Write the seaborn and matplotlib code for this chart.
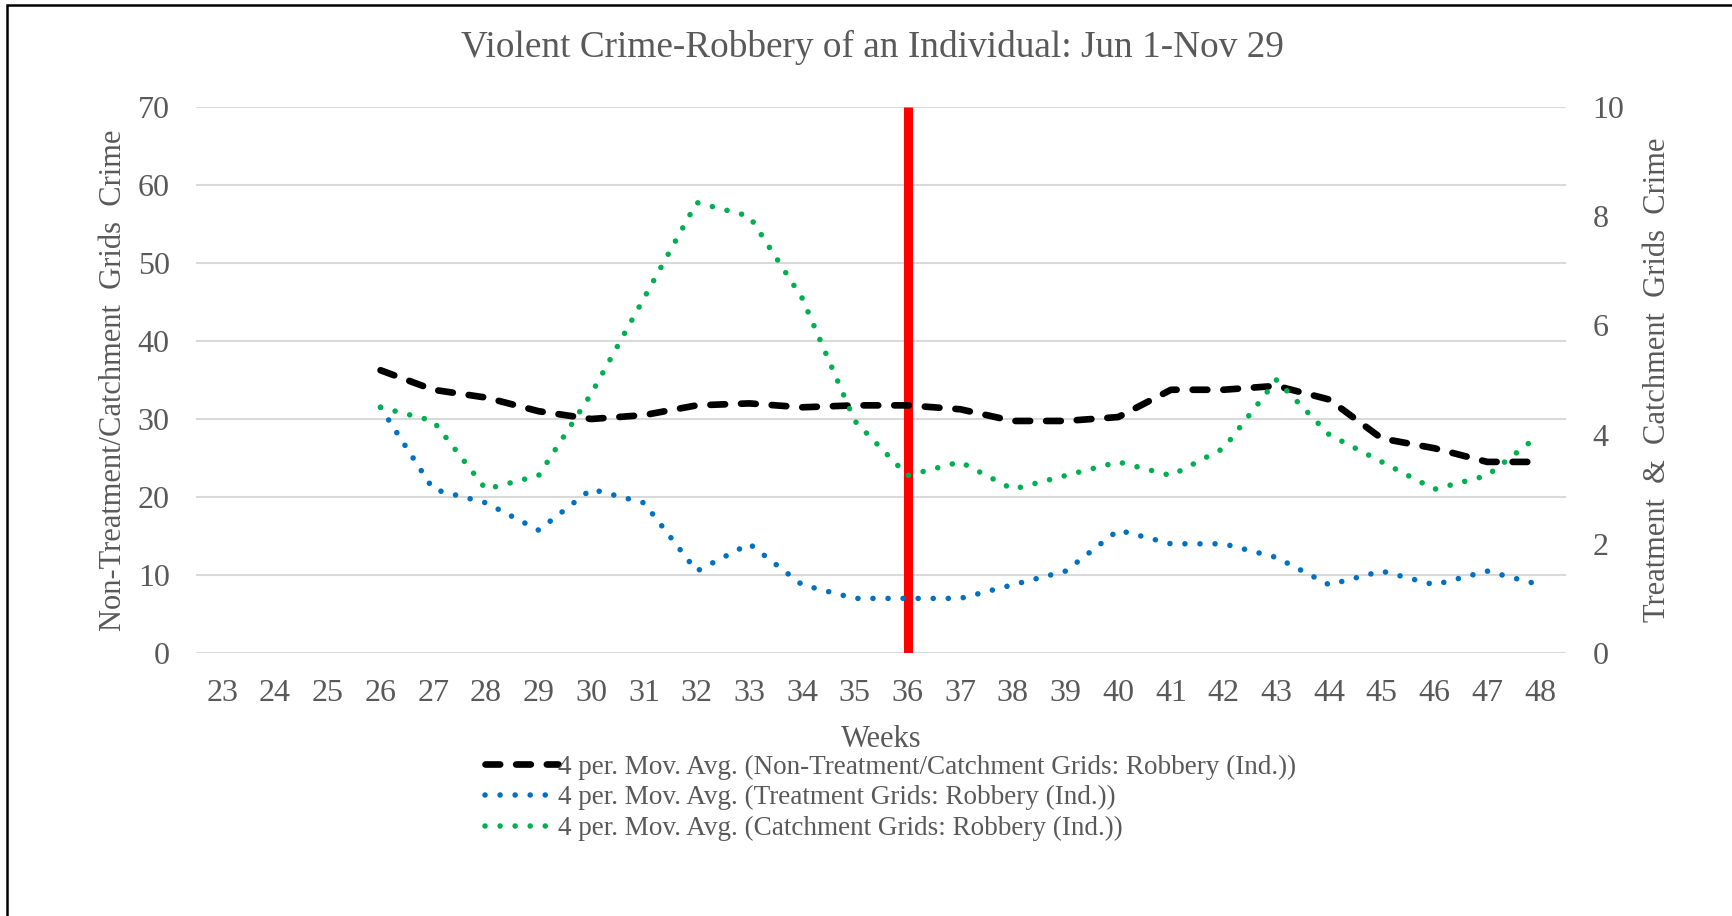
import numpy as np
import pandas as pd
import matplotlib
matplotlib.use("Agg")
import matplotlib.pyplot as plt
import seaborn as sns
from matplotlib.patches import Rectangle
from matplotlib.lines import Line2D

sns.set_style("white")
plt.rcParams['font.family'] = ['Liberation Serif', 'DejaVu Serif']

# week axis
weeks_all = list(range(23, 49))
weeks = list(range(26, 49))

# 4 per. moving averages
non_treatment = [36.25, 33.75, 32.75, 31.0, 30.0, 30.5, 31.75, 32.0, 31.5, 31.75, 31.75,
                 31.25, 29.75, 29.75, 30.25, 33.75, 33.75, 34.25, 32.5, 27.5, 26.25, 24.5, 24.5]
treatment = [4.5, 3.0, 2.75, 2.25, 3.0, 2.75, 1.5, 2.0, 1.25, 1.0, 1.0,
             1.0, 1.25, 1.5, 2.25, 2.0, 2.0, 1.75, 1.25, 1.5, 1.25, 1.5, 1.25]
catchment = [4.5, 4.25, 3.0, 3.25, 4.75, 6.5, 8.25, 8.0, 6.5, 4.25, 3.25,
             3.5, 3.0, 3.25, 3.5, 3.25, 3.75, 5.0, 4.0, 3.5, 3.0, 3.25, 4.0]
intervention_week = 36

labels = ["4 per. Mov. Avg. (Non-Treatment/Catchment Grids: Robbery (Ind.))",
          "4 per. Mov. Avg. (Treatment Grids: Robbery (Ind.))",
          "4 per. Mov. Avg. (Catchment Grids: Robbery (Ind.))"]

df = pd.DataFrame({"week": weeks, "non": non_treatment, "trt": treatment, "cat": catchment})

grey = "#595959"
blue = "#0070C0"
green = "#00B050"

fig = plt.figure(figsize=(17.32, 9.16), dpi=100)
ax = fig.add_axes([0.1132, 0.2871, 0.7911, 0.5961])
ax2 = ax.twinx()

# left axis: non-treatment
sns.lineplot(data=df, x="week", y="non", ax=ax, color="black", lw=4.8)
ax.lines[-1].set_dashes([2.2, 2.4])
ax.lines[-1].set_dash_capstyle("round")

# intervention line
ax.vlines(intervention_week, 0, 70, color="#FF0000", lw=6.5, zorder=1)

# right axis: treatment and catchment
sns.lineplot(data=df, x="week", y="trt", ax=ax2, color=blue, lw=4.0)
sns.lineplot(data=df, x="week", y="cat", ax=ax2, color=green, lw=4.0)
for ln in ax2.lines:
    ln.set_dashes([0.01, 2.7])
    ln.set_dash_capstyle("round")

ax.set_xlim(22.5, 48.5)
ax.set_xticks(weeks_all)
ax.set_ylim(0, 70)
ax.set_yticks(range(0, 71, 10))
ax2.set_ylim(0, 10)
ax2.set_yticks(range(0, 11, 2))

ax.grid(axis="y", color="#d9d9d9", lw=1.5)
ax.set_axisbelow(True)
for a in (ax, ax2):
    for s in a.spines.values():
        s.set_visible(False)
    a.tick_params(length=0, labelsize=23, labelcolor=grey, pad=19)
ax.tick_params(axis="x", pad=19)

ax.set_xlabel("Weeks", fontsize=22, color=grey, labelpad=12)
ax.set_ylabel("Non-Treatment/Catchment  Grids  Crime", fontsize=22, color=grey, labelpad=7)
ax2.set_ylabel("Treatment  &  Catchment  Grids  Crime", fontsize=22, color=grey, labelpad=13)

fig.text(0.5035, 0.948, "Violent Crime-Robbery of an Individual: Jun 1-Nov 29", fontsize=26.8,
         color=grey, ha="center", va="center")

# legend below the plot
h1 = Line2D([], [], color="black", lw=4.8, dashes=[2.2, 2.4], dash_capstyle="round")
h2 = Line2D([], [], color=blue, lw=4.0, dashes=[0.01, 2.7], dash_capstyle="round")
h3 = Line2D([], [], color=green, lw=4.0, dashes=[0.01, 2.7], dash_capstyle="round")
leg = fig.legend([h1, h2, h3], labels, loc="upper left", bbox_to_anchor=(0.2800, 0.176),
                 frameon=False, fontsize=19.5, handlelength=2.7, handletextpad=0.0,
                 labelspacing=0.2, borderpad=0, borderaxespad=0)
for t in leg.get_texts():
    t.set_color(grey)

# outer frame
fig.patches.append(Rectangle((7 / 1732, -0.5), 1.5, 1.5 - 5 / 916, transform=fig.transFigure,
                             fill=False, ec="black", lw=1.8))

plt.savefig("out.png", dpi=100)
